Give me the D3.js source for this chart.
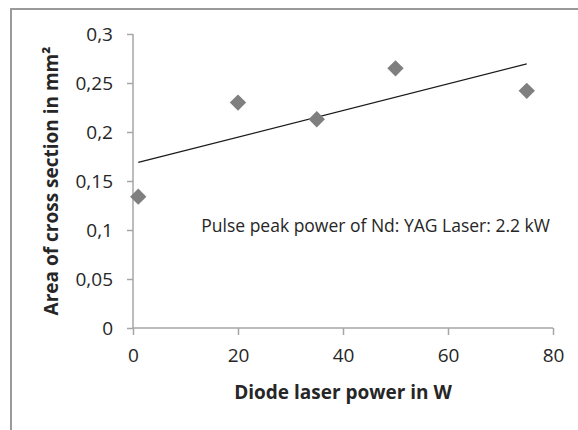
<!DOCTYPE html>
<html>
<head>
<meta charset="utf-8">
<script src="https://cdn.jsdelivr.net/npm/d3@7"></script>
<style>
  body { margin: 0; background: #fff; }
  text { font-family: "Open Sans", sans-serif; fill: #262626; }
</style>
</head>
<body>
<div id="chart"></div>
<script>
// data
let power = [1, 20, 35, 50, 75];
let area = [0.134, 0.230, 0.213, 0.265, 0.242];
let xTicks = [0, 20, 40, 60, 80];
let yTicks = [0, 0.05, 0.1, 0.15, 0.2, 0.25, 0.3];
let note = "Pulse peak power of Nd: YAG Laser: 2.2 kW";

let svgWidth = 578;
let svgHeight = 430;

let margin = { top: 34, right: 25, bottom: 102, left: 133 };
let width = svgWidth - margin.left - margin.right;
let height = svgHeight - margin.top - margin.bottom;

let svg = d3.select("#chart")
    .append("svg")
    .attr("width", svgWidth)
    .attr("height", svgHeight);

// chart area frame (only left and top edges show)
svg.append("path")
    .attr("d", "M11,430 V9 H578")
    .attr("fill", "none")
    .attr("stroke", "#9a9a9a")
    .attr("stroke-width", 2);

let chartGroup = svg.append("g")
    .attr("transform", `translate(${margin.left}, ${margin.top})`);

let xScale = d3.scaleLinear().domain([0, 80]).range([0, width]);
let yScale = d3.scaleLinear().domain([0, 0.3]).range([height, 0]);

let fmt = d => String(d).replace(".", ",");

let bottomAxis = d3.axisBottom(xScale).tickValues(xTicks).tickSize(7).tickPadding(14);
let leftAxis = d3.axisLeft(yScale).tickValues(yTicks).tickSize(6).tickPadding(14).tickFormat(fmt);

let gx = chartGroup.append("g")
    .attr("transform", `translate(0, ${height})`)
    .call(bottomAxis);

let gy = chartGroup.append("g")
    .call(leftAxis);

[gx, gy].forEach(g => {
  g.selectAll("path, line").attr("stroke", "#a6a6a6").attr("stroke-width", 1.5);
  g.select(".domain").attr("d", g === gx ? `M0,0H${width}` : `M0,0V${height}`);
  g.selectAll("text")
    .attr("font-family", "Open Sans, sans-serif")
    .attr("font-size", 19)
    .attr("fill", "#262626");
});

// linear trend line (least squares)
let mx = d3.mean(power), my = d3.mean(area);
let slope = d3.sum(power, (p, i) => (p - mx) * (area[i] - my)) / d3.sum(power, p => (p - mx) ** 2);
let icpt = my - slope * mx;
let x0 = d3.min(power), x1 = d3.max(power);

chartGroup.append("line")
    .attr("x1", xScale(x0)).attr("y1", yScale(icpt + slope * x0))
    .attr("x2", xScale(x1)).attr("y2", yScale(icpt + slope * x1))
    .attr("stroke", "#1a1a1a")
    .attr("stroke-width", 1.2);

chartGroup.selectAll(".pt")
    .data(power)
    .enter()
    .append("path")
    .attr("class", "pt")
    .attr("d", d3.symbol().type(d3.symbolDiamond2).size(170))
    .attr("transform", (d, i) => `translate(${xScale(d)}, ${yScale(area[i])})`)
    .attr("fill", "#7f7f7f");

chartGroup.append("text")
    .attr("x", xScale(13))
    .attr("y", yScale(0.098))
    .attr("font-size", 17.5)
    .text(note);

chartGroup.append("text")
    .attr("x", width / 2)
    .attr("y", height + 71)
    .attr("text-anchor", "middle")
    .attr("font-size", 19)
    .attr("font-weight", "bold")
    .text("Diode laser power in W");

chartGroup.append("text")
    .attr("transform", "rotate(-90)")
    .attr("x", -height / 2)
    .attr("y", -75)
    .attr("text-anchor", "middle")
    .attr("font-size", 19)
    .attr("font-weight", "bold")
    .text("Area of cross section in mm²");
</script>
</body>
</html>
